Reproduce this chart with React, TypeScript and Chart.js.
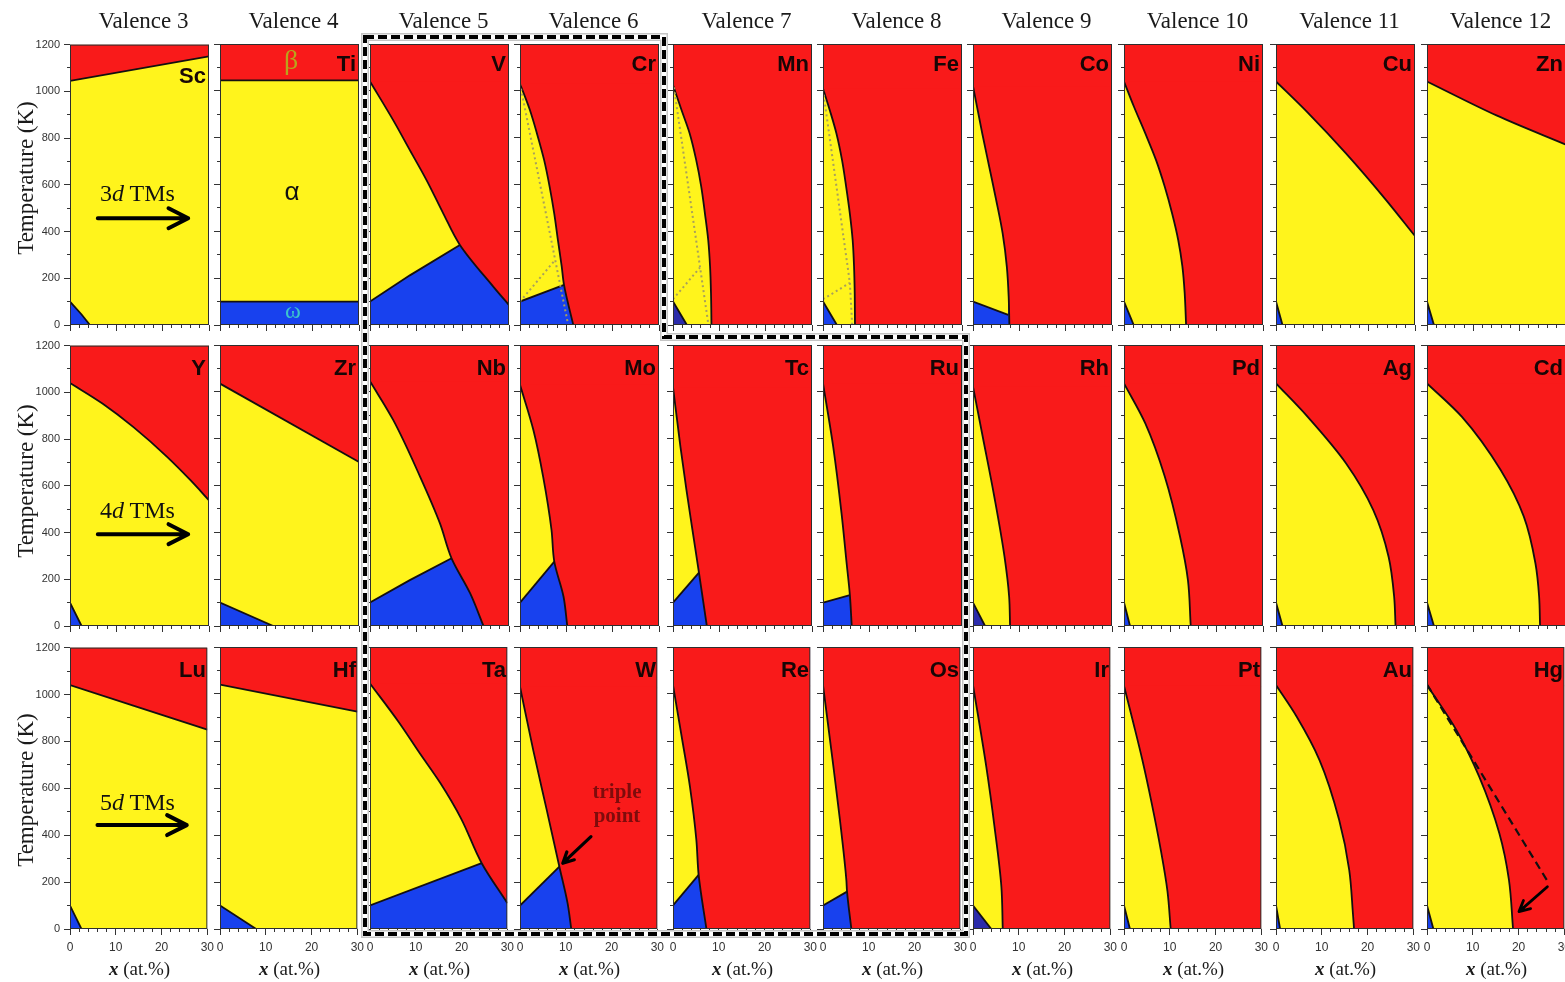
import React, { useEffect, useRef } from 'react';
import { Chart, registerables } from 'chart.js';

Chart.register(...registerables);

type Pt = [number, number];
type Ax = 'x' | 'y';

// ---------------- data ----------------
const valences = [3, 4, 5, 6, 7, 8, 9, 10, 11, 12];
const elements3d = ['Sc', 'Ti', 'V', 'Cr', 'Mn', 'Fe', 'Co', 'Ni', 'Cu', 'Zn'];
const elements4d = ['Y', 'Zr', 'Nb', 'Mo', 'Tc', 'Ru', 'Rh', 'Pd', 'Ag', 'Cd'];
const elements5d = ['Lu', 'Hf', 'Ta', 'W', 'Re', 'Os', 'Ir', 'Pt', 'Au', 'Hg'];
const shells = ['3', '4', '5'];
const xRange: Pt = [0, 30];
const yRange: Pt = [0, 1200];
const fullTop: Pt[] = [[0, 1200], [30, 1200]];

// beta boundaries: 'x'-indexed ones are T(x); 'y'-indexed ones are x(T), listed from low T to high T
// omega boundaries: alpha/omega line, T(x)
// 3d row
const scBeta: Pt[] = [[0, 1045], [30, 1150]];
const scOmega: Pt[] = [[0, 100], [2.5, 45], [4.3, 0], [30, 0]];
const tiBeta: Pt[] = [[0, 1045], [30, 1045]];
const tiOmega: Pt[] = [[0, 100], [30, 100]];
const vBeta: Pt[] = [[30, 85], [26.6, 164], [19.4, 342], [15.8, 477], [12.2, 619], [8.6, 747], [5, 875], [0, 1040]];
const vOmega: Pt[] = [[0, 100], [8.6, 212], [19.4, 342]];
const crBeta: Pt[] = [[11.5, 0], [9.5, 171], [9.0, 250], [8.2, 360], [7.4, 475], [6.4, 590], [5.2, 705], [3.7, 815], [2.1, 920], [0, 1030]];
const crOmega: Pt[] = [[0, 100], [9.5, 171]];
const crDotA: Pt[] = [[0, 1030], [10.4, 0]];
const crDotB: Pt[] = [[0, 100], [7.6, 278]];
const mnBeta: Pt[] = [[8.3, 0], [8.2, 135], [8.0, 250], [7.6, 363], [6.9, 475], [6.1, 590], [5.0, 705], [3.6, 818], [1.8, 920], [0, 1025]];
const mnOmega: Pt[] = [[0, 100], [3.0, 0], [30, 0]];
const mnDotA: Pt[] = [[0.2, 1015], [7.65, 0]];
const mnDotB: Pt[] = [[0, 110], [5.8, 245]];
const feBeta: Pt[] = [[6.9, 0], [6.85, 130], [6.7, 250], [6.4, 363], [5.8, 475], [5.0, 590], [4.1, 705], [2.9, 818], [1.5, 915], [0, 1010]];
const feOmega: Pt[] = [[0, 100], [3.0, 0], [30, 0]];
const feDotA: Pt[] = [[0, 1005], [5.8, 180], [6.3, 0]];
const feDotB: Pt[] = [[0, 110], [5.8, 180]];
const coBeta: Pt[] = [[7.85, 0], [7.7, 120], [7.3, 249], [6.4, 391], [5.0, 534], [3.5, 676], [2.0, 818], [0, 1020]];
const coOmega: Pt[] = [[0, 100], [7.6, 43]];
const niBeta: Pt[] = [[13.4, 0], [13.1, 135], [12.6, 250], [11.7, 363], [10.4, 475], [8.8, 590], [6.9, 705], [4.6, 818], [2.2, 930], [0, 1040]];
const niOmega: Pt[] = [[0, 100], [2.1, 0], [30, 0]];
const cuBeta: Pt[] = [[0, 1040], [6.8, 908], [15.1, 733], [23.5, 540], [30, 380]];
const cuOmega: Pt[] = [[0, 100], [1.4, 0], [30, 0]];
const znBeta: Pt[] = [[0, 1040], [15, 895], [30, 770]];
const znOmega: Pt[] = [[0, 100], [1.5, 0], [30, 0]];

// 4d row
const yBeta: Pt[] = [[0, 1040], [7, 952], [13.7, 851], [20.9, 725], [26, 624], [30, 538]];
const yOmega: Pt[] = [[0, 100], [2.5, 0], [30, 0]];
const zrBeta: Pt[] = [[0, 1035], [30, 700]];
const zrOmega: Pt[] = [[0, 100], [11.5, 0], [30, 0]];
const nbBeta: Pt[] = [[24.5, 0], [21.6, 140], [17.6, 289], [15.1, 438], [10.8, 638], [5, 880], [0, 1045]];
const nbOmega: Pt[] = [[0, 100], [8.6, 196], [17.6, 289]];
const moBeta: Pt[] = [[10.2, 0], [9.4, 125], [7.4, 275], [6.8, 410], [5.0, 637], [2.9, 836], [0, 1030]];
const moOmega: Pt[] = [[0, 100], [7.4, 275]];
const tcBeta: Pt[] = [[7.3, 0], [5.6, 228], [4.2, 410], [2.9, 581], [1.6, 766], [0, 1020]];
const tcOmega: Pt[] = [[0, 100], [5.6, 228]];
const ruBeta: Pt[] = [[6.2, 0], [5.8, 132], [5.1, 268], [4.0, 481], [2.2, 766], [0, 1036]];
const ruOmega: Pt[] = [[0, 100], [5.8, 132]];
const rhBeta: Pt[] = [[8.0, 0], [7.8, 125], [6.8, 296], [4.6, 552], [2.1, 808], [0, 1022]];
const rhOmega: Pt[] = [[0, 100], [2.6, 0], [30, 0]];
const pdBeta: Pt[] = [[14.4, 0], [13.8, 196], [12.1, 381], [8.8, 638], [4.6, 865], [0, 1036]];
const pdOmega: Pt[] = [[0, 100], [1.3, 0], [30, 0]];
const agBeta: Pt[] = [[25.8, 0], [25.5, 125], [24.3, 296], [21.0, 495], [15.1, 695], [6.8, 894], [0, 1036]];
const agOmega: Pt[] = [[0, 100], [1.4, 0], [30, 0]];
const cdBeta: Pt[] = [[24.4, 0], [24.2, 125], [23.4, 268], [20.9, 467], [15.9, 666], [7.5, 894], [0, 1036]];
const cdOmega: Pt[] = [[0, 100], [1.5, 0], [30, 0]];

// 5d row
const luBeta: Pt[] = [[0, 1040], [30, 850]];
const luOmega: Pt[] = [[0, 100], [2.5, 0], [30, 0]];
const hfBeta: Pt[] = [[0, 1040], [30, 925]];
const hfOmega: Pt[] = [[0, 100], [7.9, 0], [30, 0]];
const taBeta: Pt[] = [[30, 110], [24.4, 280], [19.9, 470], [15.4, 620], [10.8, 750], [6.3, 880], [0, 1045]];
const taOmega: Pt[] = [[0, 100], [24.4, 280]];
const wBeta: Pt[] = [[11.2, 0], [10.4, 109], [8.6, 265], [5.8, 510], [2.9, 760], [0, 1031]];
const wOmega: Pt[] = [[0, 100], [8.6, 265]];
const reBeta: Pt[] = [[7.3, 0], [5.6, 230], [5.1, 379], [3.7, 606], [1.9, 818], [0, 1038]];
const reOmega: Pt[] = [[0, 100], [5.6, 230]];
const osBeta: Pt[] = [[6.2, 0], [5.25, 159], [5.1, 209], [3.7, 464], [1.9, 748], [0, 1038]];
const osOmega: Pt[] = [[0, 100], [5.25, 159]];
const irBeta: Pt[] = [[6.5, 0], [6.2, 180], [4.7, 435], [2.9, 691], [0, 1038]];
const irOmega: Pt[] = [[0, 100], [4.0, 0], [30, 0]];
const ptBeta: Pt[] = [[10.2, 0], [9.5, 160], [8, 340], [6, 540], [4, 720], [2, 880], [0, 1035]];
const ptOmega: Pt[] = [[0, 100], [1.3, 0], [30, 0]];
const auBeta: Pt[] = [[17.05, 0], [16.8, 67], [16.0, 251], [13.8, 464], [9.5, 719], [4.5, 904], [0, 1038]];
const auOmega: Pt[] = [[0, 100], [0.9, 0], [30, 0]];
const hgBeta: Pt[] = [[18.8, 0], [17.9, 209], [15.8, 407], [11.4, 648], [6.4, 847], [0, 1038]];
const hgOmega: Pt[] = [[0, 100], [1.4, 0], [30, 0]];
const hgDashed: Pt[] = [[0, 1040], [26.6, 195]];

// annotation arrows (data coordinates)
const tmsArrowX: Pt = [6, 25.5];
const tmsArrowT = [457, 393, 443];
const tripleArrow: Pt[] = [[15.5, 393], [9.35, 280]];
const hgArrow: Pt[] = [[26.3, 180], [20.1, 74]];

// ---------------- styles / layout ----------------
const RED = '#f91a1a';
const YELLOW = '#fff41c';
const BLUE = '#1841ee';
const DARK_BLUE = '#2c2cab';
const EDGE = '#141010';
const OLIVE = '#a8a05c';
const SERIF = '"Liberation Serif", "Times New Roman", serif';
const SANS = '"Liberation Sans", Arial, sans-serif';

const PLOT_LEFTS = [70, 220, 370, 520, 673, 823, 973, 1124, 1276, 1427];
const PLOT_TOPS = [44, 345, 647];
const PLOT_HEIGHTS = [281, 281, 282];
const PLOT_W = 139;
const PAD_L = 40, PAD_R = 10, PAD_T = 10, PAD_B = 30;
const BAND_OVERLAP = 6;

type Arrow = { from: Pt; to: Pt; w: number; head: number };
type Spec = { el: string; beta: Pt[]; axis: Ax; omega: Pt[]; dark?: boolean; dotted?: Pt[][]; dashed?: Pt[]; arrows?: Arrow[] };

const tmsArrow = (r: number): Arrow => ({ from: [tmsArrowX[0], tmsArrowT[r]], to: [tmsArrowX[1], tmsArrowT[r]], w: 4, head: 22 });

const rows: Spec[][] = [
  [
    { el: elements3d[0], beta: scBeta, axis: 'x', omega: scOmega, arrows: [tmsArrow(0)] },
    { el: elements3d[1], beta: tiBeta, axis: 'x', omega: tiOmega },
    { el: elements3d[2], beta: vBeta, axis: 'y', omega: vOmega },
    { el: elements3d[3], beta: crBeta, axis: 'y', omega: crOmega, dotted: [crDotA, crDotB] },
    { el: elements3d[4], beta: mnBeta, axis: 'y', omega: mnOmega, dark: true, dotted: [mnDotA, mnDotB] },
    { el: elements3d[5], beta: feBeta, axis: 'y', omega: feOmega, dotted: [feDotA, feDotB] },
    { el: elements3d[6], beta: coBeta, axis: 'y', omega: coOmega },
    { el: elements3d[7], beta: niBeta, axis: 'y', omega: niOmega },
    { el: elements3d[8], beta: cuBeta, axis: 'x', omega: cuOmega },
    { el: elements3d[9], beta: znBeta, axis: 'x', omega: znOmega },
  ],
  [
    { el: elements4d[0], beta: yBeta, axis: 'x', omega: yOmega, arrows: [tmsArrow(1)] },
    { el: elements4d[1], beta: zrBeta, axis: 'x', omega: zrOmega },
    { el: elements4d[2], beta: nbBeta, axis: 'y', omega: nbOmega },
    { el: elements4d[3], beta: moBeta, axis: 'y', omega: moOmega },
    { el: elements4d[4], beta: tcBeta, axis: 'y', omega: tcOmega },
    { el: elements4d[5], beta: ruBeta, axis: 'y', omega: ruOmega },
    { el: elements4d[6], beta: rhBeta, axis: 'y', omega: rhOmega, dark: true },
    { el: elements4d[7], beta: pdBeta, axis: 'y', omega: pdOmega },
    { el: elements4d[8], beta: agBeta, axis: 'y', omega: agOmega },
    { el: elements4d[9], beta: cdBeta, axis: 'y', omega: cdOmega },
  ],
  [
    { el: elements5d[0], beta: luBeta, axis: 'x', omega: luOmega, arrows: [tmsArrow(2)] },
    { el: elements5d[1], beta: hfBeta, axis: 'x', omega: hfOmega },
    { el: elements5d[2], beta: taBeta, axis: 'y', omega: taOmega },
    { el: elements5d[3], beta: wBeta, axis: 'y', omega: wOmega, arrows: [{ from: tripleArrow[0], to: tripleArrow[1], w: 3.2, head: 12 }] },
    { el: elements5d[4], beta: reBeta, axis: 'y', omega: reOmega },
    { el: elements5d[5], beta: osBeta, axis: 'y', omega: osOmega },
    { el: elements5d[6], beta: irBeta, axis: 'y', omega: irOmega, dark: true },
    { el: elements5d[7], beta: ptBeta, axis: 'y', omega: ptOmega },
    { el: elements5d[8], beta: auBeta, axis: 'y', omega: auOmega },
    { el: elements5d[9], beta: hgBeta, axis: 'y', omega: hgOmega, dashed: hgDashed, arrows: [{ from: hgArrow[0], to: hgArrow[1], w: 2.8, head: 12 }] },
  ],
];

// ---------------- plugins ----------------
const framePlugin = {
  id: 'frame',
  afterDatasetsDraw(chart: any) {
    const { ctx, chartArea: a } = chart;
    ctx.save();
    ctx.strokeStyle = '#2e2e2e';
    ctx.lineWidth = 1;
    ctx.strokeRect(a.left + 0.5, a.top + 0.5, a.right - a.left - 1, a.bottom - a.top - 1);
    ctx.restore();
  },
};

const arrowPlugin = {
  id: 'arrows',
  afterDraw(chart: any, _args: any, opts: any) {
    const list: Arrow[] = (opts && opts.list) || [];
    const { ctx } = chart;
    const xs = chart.scales.x, ys = chart.scales.y;
    for (const a of list) {
      const x1 = xs.getPixelForValue(a.from[0]), y1 = ys.getPixelForValue(a.from[1]);
      const x2 = xs.getPixelForValue(a.to[0]), y2 = ys.getPixelForValue(a.to[1]);
      const ang = Math.atan2(y2 - y1, x2 - x1);
      const sp = 0.47;
      ctx.save();
      ctx.strokeStyle = '#000';
      ctx.lineWidth = a.w;
      ctx.lineCap = 'round';
      ctx.lineJoin = 'round';
      ctx.beginPath();
      ctx.moveTo(x1, y1);
      ctx.lineTo(x2, y2);
      ctx.moveTo(x2 - a.head * Math.cos(ang - sp), y2 - a.head * Math.sin(ang - sp));
      ctx.lineTo(x2, y2);
      ctx.lineTo(x2 - a.head * Math.cos(ang + sp), y2 - a.head * Math.sin(ang + sp));
      ctx.stroke();
      ctx.restore();
    }
  },
};

function buildConfig(r: number, c: number, spec: Spec) {
  const blue = spec.dark ? DARK_BLUE : BLUE;
  const ds = (pts: Pt[], extra: any) => ({
    data: pts.map(([x, y]) => ({ x, y })),
    xAxisID: 'x', yAxisID: 'y',
    pointRadius: 0, pointHoverRadius: 0, pointHitRadius: 0,
    ...extra,
  });
  const datasets: any[] = [
    // omega field (background)
    ds(fullTop, { fill: { value: yRange[0] }, backgroundColor: blue, borderColor: blue, borderWidth: 0, order: 10 }),
    // alpha field: above the alpha/omega boundary
    ds(spec.omega, { fill: { value: yRange[1] }, backgroundColor: YELLOW, borderColor: EDGE, borderWidth: 1.8, tension: 0, order: 9 }),
  ];
  if (spec.axis === 'x') {
    datasets.push(ds(spec.beta, { fill: { value: yRange[1] }, backgroundColor: RED, borderColor: EDGE, borderWidth: 1.8, cubicInterpolationMode: 'monotone', order: 7 }));
  } else {
    const tStart = spec.beta[spec.beta.length - 1][1];
    datasets.push(ds(fullTop, { fill: { value: tStart - BAND_OVERLAP }, backgroundColor: RED, borderColor: RED, borderWidth: 0, order: 8 }));
    datasets.push(ds(spec.beta, { indexAxis: 'y', fill: { value: xRange[1] }, backgroundColor: RED, borderColor: EDGE, borderWidth: 1.8, cubicInterpolationMode: 'monotone', order: 7 }));
  }
  (spec.dotted || []).forEach((d) => datasets.push(ds(d, { fill: false, borderColor: OLIVE, borderWidth: 2, borderDash: [2, 3], tension: 0, order: 5 })));
  if (spec.dashed) {
    datasets.push(ds(spec.dashed, { fill: false, borderColor: '#111', borderWidth: 2.2, borderDash: [8, 5], tension: 0, order: 1 }));
  }
  const showY = c === 0;
  const showX = r === 2;
  const tickFont = (size: number) => ({ family: SANS, size });
  const label = (v: any) => String(v);
  const scales: any = {
    x: {
      type: 'linear', axis: 'x', position: 'bottom', min: xRange[0], max: xRange[1], weight: 1,
      ticks: { display: showX, stepSize: 10, padding: 5, color: '#333', font: tickFont(12), autoSkip: false, maxRotation: 0, callback: label },
      grid: { drawOnChartArea: false, drawTicks: true, tickLength: 6, color: '#333', tickColor: '#333', tickWidth: 1 },
      border: { display: false },
      afterFit: (s: any) => { s.height = PAD_B; },
    },
    xm: {
      type: 'linear', axis: 'x', position: 'bottom', min: xRange[0], max: xRange[1], weight: 0,
      ticks: { display: false, stepSize: 2, maxTicksLimit: 100 },
      grid: { drawOnChartArea: false, drawTicks: true, tickLength: 3, color: '#333', tickColor: '#333', tickWidth: 1 },
      border: { display: false },
      afterFit: (s: any) => { s.height = 0; },
    },
    y: {
      type: 'linear', axis: 'y', position: 'left', min: yRange[0], max: yRange[1], weight: 1,
      ticks: { display: showY, stepSize: 200, padding: 4, color: '#333', font: tickFont(11), autoSkip: false, callback: label },
      grid: { drawOnChartArea: false, drawTicks: true, tickLength: 6, color: '#333', tickColor: '#333', tickWidth: 1 },
      border: { display: false },
      afterFit: (s: any) => { s.width = PAD_L; },
    },
    ym: {
      type: 'linear', axis: 'y', position: 'left', min: yRange[0], max: yRange[1], weight: 0,
      ticks: { display: false, stepSize: 100, maxTicksLimit: 100 },
      grid: { drawOnChartArea: false, drawTicks: true, tickLength: 3, color: '#333', tickColor: '#333', tickWidth: 1 },
      border: { display: false },
      afterFit: (s: any) => { s.width = 0; },
    },
  };
  return {
    type: 'line',
    data: { datasets },
    options: {
      animation: false,
      responsive: false,
      maintainAspectRatio: false,
      devicePixelRatio: 1,
      events: [],
      layout: { padding: { left: 0, right: PAD_R, top: PAD_T, bottom: 0 } },
      scales,
      plugins: {
        legend: { display: false },
        tooltip: { enabled: false },
        arrows: { list: spec.arrows || [] },
      },
    },
    plugins: [framePlugin, arrowPlugin],
  };
}

function Panel({ r, c, spec }: { r: number; c: number; spec: Spec }) {
  const ref = useRef<HTMLCanvasElement | null>(null);
  const W = PLOT_W + PAD_L + PAD_R;
  const H = PLOT_HEIGHTS[r] + PAD_T + PAD_B;
  useEffect(() => {
    const canvas = ref.current;
    if (!canvas) return;
    const chart = new Chart(canvas, buildConfig(r, c, spec) as any);
    return () => chart.destroy();
  }, [r, c, spec]);
  return (
    <canvas
      ref={ref}
      width={W}
      height={H}
      style={{ position: 'absolute', left: PLOT_LEFTS[c] - PAD_L, top: PLOT_TOPS[r] - PAD_T, width: W, height: H }}
    />
  );
}

const elBaselines = [71, 375, 677];
const tempCenters = [178, 481, 790];
const shellBaselines = [201, 518, 810];
const boxPts = '365,37 664,37 664,337 966,337 966,934 365,934';

function Overlay() {
  return (
    <svg width={1565} height={982} style={{ position: 'absolute', left: 0, top: 0, pointerEvents: 'none' }}>
      {valences.map((v, i) => (
        <text key={'v' + v} x={PLOT_LEFTS[i] + PLOT_W / 2 + 4} y={28} textAnchor="middle" fontFamily={SERIF} fontSize={23} fill="#1a1a1a">
          {`Valence ${v}`}
        </text>
      ))}
      {tempCenters.map((cy, i) => (
        <text key={'t' + i} transform={`translate(33, ${cy}) rotate(-90)`} textAnchor="middle" fontFamily={SERIF} fontSize={23} fill="#1a1a1a">
          Temperature (K)
        </text>
      ))}
      {shells.map((s, i) => (
        <text key={'s' + i} x={100} y={shellBaselines[i]} fontFamily={SERIF} fontSize={24} fill="#111" style={{ whiteSpace: 'pre' }}>
          {s}
          <tspan fontStyle="italic">d</tspan>
          {' TMs'}
        </text>
      ))}
      {PLOT_LEFTS.map((l, i) => (
        <text key={'x' + i} x={l + PLOT_W / 2} y={975} textAnchor="middle" fontFamily={SERIF} fontSize={19} fill="#1a1a1a" style={{ whiteSpace: 'pre' }}>
          <tspan fontStyle="italic" fontWeight="bold">x</tspan>
          {' (at.%)'}
        </text>
      ))}
      {rows.map((row, r) =>
        row.map((p, c) => (
          <text
            key={'e' + r + c}
            x={PLOT_LEFTS[c] + PLOT_W - 3}
            y={r === 0 && c === 0 ? 83 : elBaselines[r]}
            textAnchor="end"
            fontFamily={SANS}
            fontWeight="bold"
            fontSize={22}
            fill="#180606"
          >
            {p.el}
          </text>
        ))
      )}
      <text x={291} y={69} textAnchor="middle" fontFamily={SERIF} fontSize={28} fill="#b9a41c">β</text>
      <text x={292} y={200} textAnchor="middle" fontFamily={SANS} fontSize={26} fill="#111">α</text>
      <text x={293} y={318} textAnchor="middle" fontFamily={SERIF} fontSize={24} fill="#3cc4cc">ω</text>
      <text x={617} y={798} textAnchor="middle" fontFamily={SERIF} fontWeight="bold" fontSize={21} fill="#7e0c0c">triple</text>
      <text x={617} y={822} textAnchor="middle" fontFamily={SERIF} fontWeight="bold" fontSize={21} fill="#7e0c0c">point</text>
      <polygon points={boxPts} fill="none" stroke="#c4c4c4" strokeWidth={8} />
      <polygon points={boxPts} fill="none" stroke="#ffffff" strokeWidth={5} />
      <polygon points={boxPts} fill="none" stroke="#000000" strokeWidth={4} strokeDasharray="9 4" />
    </svg>
  );
}

export default function App() {
  return (
    <div style={{ position: 'absolute', left: 0, top: 0, width: 1565, height: 982, overflow: 'hidden', background: '#fff' }}>
      {rows.map((row, r) => row.map((spec, c) => <Panel key={`${r}-${c}`} r={r} c={c} spec={spec} />))}
      <Overlay />
    </div>
  );
}
